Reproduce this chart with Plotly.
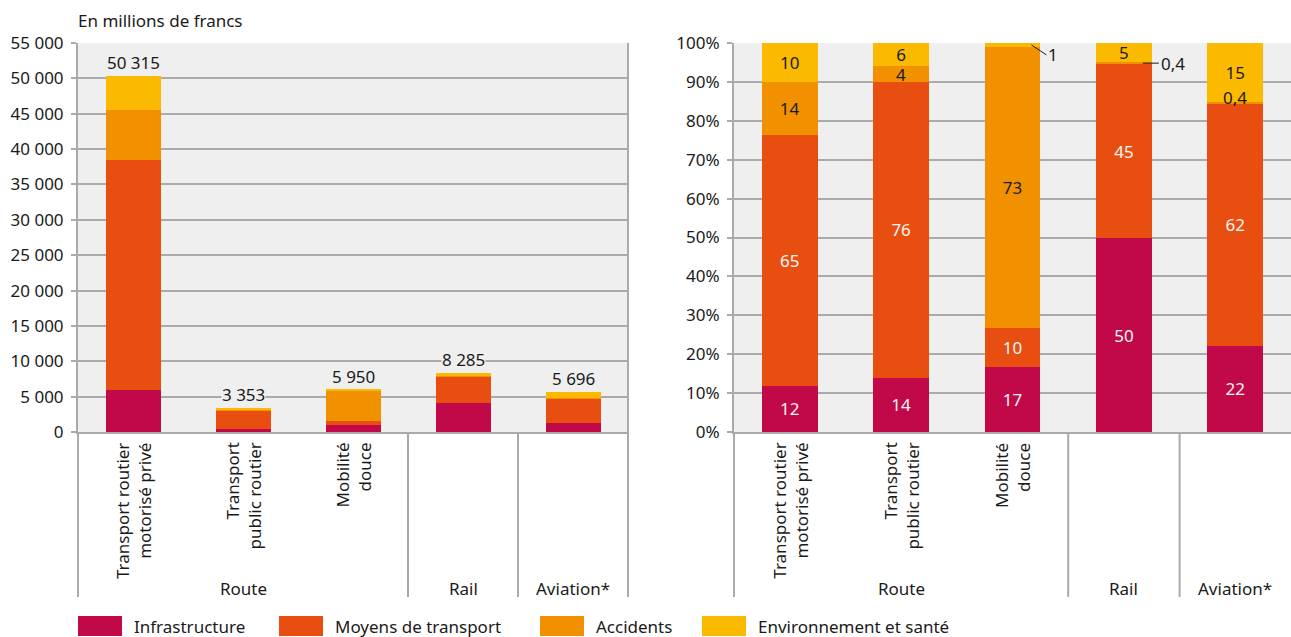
import plotly.graph_objects as go

W, H = 1291, 637

# Catégories (axe des x) et regroupements
categories = ["Transport routier<br>motorisé privé", "Transport<br>public routier",
              "Mobilité<br>douce", "", ""]
groups = ["Route", "Rail", "Aviation*"]
group_centers = [1, 3, 4]
series = ["Infrastructure", "Moyens de transport", "Accidents", "Environnement et santé"]
colors = ["#C10848", "#E84E0F", "#F29100", "#FBBA00"]
inside_text_colors = ["#F7F7F7", "#F7F7F7", "#1A1A1A", "#1A1A1A"]

# Coûts externes, en millions de francs
infrastructure = [5987, 470, 995, 4140, 1260]
moyens_transport = [32503, 2548, 590, 3730, 3540]
accidents = [6994, 134, 4320, 33, 23]
environnement = [4831, 201, 45, 382, 873]

# Parts par catégorie, en %
pct_infrastructure = [12, 14, 17, 50, 22]
pct_moyens_transport = [65, 76, 10, 45, 62]
pct_accidents = [14, 4, 73, 0.4, 0.4]
pct_environnement = [10, 6, 1, 5, 15]

y_ticks_abs = list(range(0, 55001, 5000))
y_ticks_pct = list(range(0, 101, 10))

abs_values = [infrastructure, moyens_transport, accidents, environnement]
pct_values = [pct_infrastructure, pct_moyens_transport, pct_accidents, pct_environnement]
totals = [sum(v[i] for v in abs_values) for i in range(len(categories))]
pct_sums = [sum(v[i] for v in pct_values) for i in range(len(categories))]

xs = list(range(len(categories)))
FONT = "Noto Sans"
FS = 17
TXT = "#1A1A1A"
GRID = "#AAAAAA"


def fr_number(v):
    s = f"{v:,}".replace(",", " ")
    return s.replace(".", ",")


def py(px):
    """pixel row -> paper fraction"""
    return (H - px) / H


def px_x(px):
    return px / W


fig = go.Figure()

# Panneau de gauche : montants empilés
for name, vals, col in zip(series, abs_values, colors):
    fig.add_trace(go.Bar(
        x=xs, y=vals, name=name, marker=dict(color=col, line=dict(width=0)),
        width=0.5, xaxis="x", yaxis="y", showlegend=False,
        hovertemplate="%{y:,d}<extra>" + name + "</extra>",
    ))

# Panneau de droite : parts empilées à 100 %
for name, vals, col, tcol in zip(series, pct_values, colors, inside_text_colors):
    shares = [v / s * 100 for v, s in zip(vals, pct_sums)]
    labels = [fr_number(v) if v >= 2 else "" for v in vals]
    fig.add_trace(go.Bar(
        x=xs, y=shares, name=name, marker=dict(color=col, line=dict(width=0)),
        width=0.5, xaxis="x2", yaxis="y2", showlegend=False,
        text=labels, textposition="inside", insidetextanchor="middle",
        textangle=0, textfont=dict(family=FONT, size=FS, color=tcol),
        hovertemplate="%{text}<extra>" + name + "</extra>",
    ))

dom_left = [px_x(78), px_x(628)]
dom_right = [px_x(734), 1.0]
dom_y = [py(432), py(43)]

axis_common = dict(
    showgrid=False, zeroline=False, showticklabels=False, ticks="",
    range=[-0.5, 4.5], showline=True, linecolor=GRID, linewidth=2,
    fixedrange=True, automargin=False,
)
yaxis_common = dict(
    showgrid=True, gridcolor=GRID, gridwidth=1.5, zeroline=False,
    showline=True, linecolor=GRID, linewidth=2,
    ticks="outside", ticklen=5, tickcolor=GRID, tickwidth=1.5,
    ticklabelstandoff=4, automargin=False,
    tickfont=dict(family=FONT, size=FS, color=TXT), domain=dom_y, fixedrange=True,
)

fig.update_layout(
    width=W, height=H, margin=dict(l=0, r=0, t=0, b=0, pad=0, autoexpand=False),
    paper_bgcolor="white", plot_bgcolor="#EFEFEF",
    barmode="stack", bargap=0.5, separators=", ",
    uniformtext=dict(minsize=FS, mode="show"),
    font=dict(family=FONT, size=FS, color=TXT),
    xaxis=dict(domain=dom_left, anchor="y", **axis_common),
    xaxis2=dict(domain=dom_right, anchor="y2", **axis_common),
    yaxis=dict(anchor="x", range=[0, 55000], tickvals=y_ticks_abs,
               ticktext=[fr_number(v) for v in y_ticks_abs], **yaxis_common),
    yaxis2=dict(anchor="x2", range=[0, 100], tickvals=y_ticks_pct,
                ticktext=[f"{v}%" for v in y_ticks_pct], **yaxis_common),
)

ann = []
shapes = []

# Unité du panneau de gauche
ann.append(dict(text="En millions de francs", xref="paper", yref="paper",
                x=px_x(76), y=py(21), xanchor="left", yanchor="middle",
                showarrow=False, font=dict(size=FS)))

# Totaux au-dessus des barres
for i, t in enumerate(totals):
    ann.append(dict(text=fr_number(t), xref="x", yref="y", x=i, y=t,
                    xanchor="center", yanchor="bottom", yshift=1, showarrow=False,
                    bgcolor="#EFEFEF", borderpad=0, font=dict(size=FS)))

# Étiquettes des petites parts (hors segment)
for i in xs:
    cum = 0
    for k, vals in enumerate(pct_values):
        v = vals[i]
        share = v / pct_sums[i] * 100
        top = cum + share
        mid = cum + share / 2
        cum = top
        if v >= 2:
            continue
        label = fr_number(v)
        if k == 3:  # environnement : trait oblique vers le bas à droite
            ann.append(dict(text=label, xref="x2", yref="y2", x=i + 0.17, y=mid,
                            ax=15, ay=10, xanchor="left", yanchor="middle",
                            showarrow=True, arrowhead=0, arrowwidth=1, arrowcolor=TXT,
                            standoff=0, startstandoff=0, font=dict(size=FS)))
        elif i == 3:  # trait horizontal vers la droite
            ann.append(dict(text=label, xref="x2", yref="y2", x=i + 0.17, y=mid,
                            ax=16, ay=0, xanchor="left", yanchor="middle",
                            showarrow=True, arrowhead=0, arrowwidth=1, arrowcolor=TXT,
                            standoff=0, startstandoff=0, font=dict(size=FS)))
        else:  # étiquette posée au-dessus du segment
            ann.append(dict(text=label, xref="x2", yref="y2", x=i, y=top,
                            xanchor="center", yanchor="middle", yshift=4,
                            showarrow=False, font=dict(size=FS)))

# Libellés des catégories (verticaux) et des groupes
for xa in ["x", "x2"]:
    for i, c in enumerate(categories):
        if c:
            ann.append(dict(text=c, xref=xa, yref="paper", x=i, y=py(441),
                            xanchor="center", yanchor="top", textangle=-90, align="right",
                            showarrow=False, font=dict(size=FS)))
    for g, gx in zip(groups, group_centers):
        ann.append(dict(text=g, xref=xa, yref="paper", x=gx, y=py(588),
                        xanchor="center", yanchor="middle", showarrow=False,
                        font=dict(size=FS)))

# Séparateurs de l'axe des catégories
for xa, fracs in [("x domain", [0, 0.6, 0.8]), ("x2 domain", [0, 0.6, 0.8])]:
    for f in fracs:
        shapes.append(dict(type="line", xref=xa, yref="paper", x0=f, x1=f,
                           y0=py(597), y1=py(432), line=dict(color=GRID, width=2)))
shapes.append(dict(type="line", xref="x domain", yref="paper", x0=1, x1=1,
                   y0=py(597), y1=py(43), line=dict(color=GRID, width=2)))

# Légende
legend_x = [78, 279, 540, 702]
for name, col, lx in zip(series, colors, legend_x):
    shapes.append(dict(type="rect", xref="paper", yref="paper",
                       x0=px_x(lx), x1=px_x(lx + 44), y0=py(636), y1=py(616),
                       fillcolor=col, line=dict(width=0)))
    ann.append(dict(text=name, xref="paper", yref="paper", x=px_x(lx + 54), y=py(626),
                    xanchor="left", yanchor="middle", showarrow=False,
                    font=dict(size=FS)))

fig.update_layout(annotations=ann, shapes=shapes)
fig.write_html("out.html")
